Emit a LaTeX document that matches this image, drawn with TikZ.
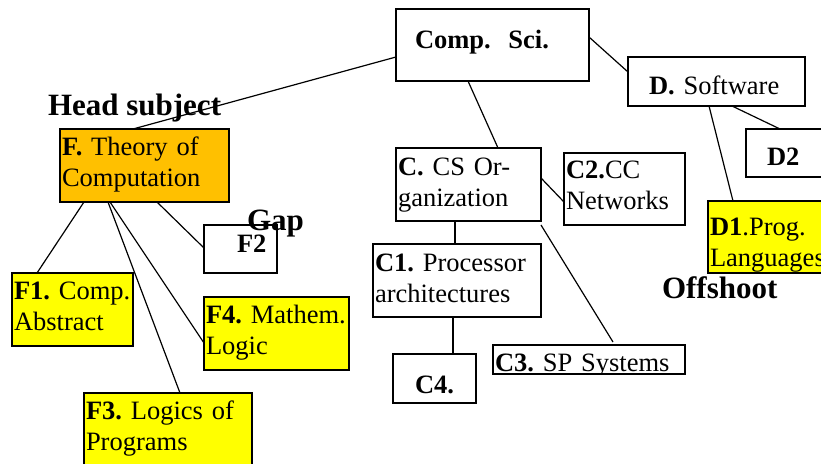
\documentclass[tikz,border=0pt]{standalone}
\usepackage{fontspec}
\setmainfont{Liberation Serif}
\newcommand\bodyfnt{\fontsize{26.5}{31.5}\selectfont\frenchspacing}
\newcommand\titlefnt{\fontsize{31}{36}\selectfont\bfseries\frenchspacing}
\definecolor{boxorange}{RGB}{255,192,0}
\definecolor{boxyellow}{RGB}{255,255,0}
\begin{document}
\begin{tikzpicture}[x=1pt,y=-1pt,
  bx/.style={draw=black, line width=1.4pt, fill=white, anchor=north west, inner sep=0pt, outer sep=0pt},
  txt/.style={anchor=base west, inner sep=0pt, outer sep=0pt, font=\bodyfnt, text width=220pt, align=left},
  ttl/.style={anchor=base west, inner sep=0pt, outer sep=0pt, font=\titlefnt},
  conn/.style={draw=black, line width=1.2pt}]
\useasboundingbox[fill=white] (0,0) rectangle (821,463);
% boxes
\node[bx, minimum width=193pt, minimum height=72pt] (Comp) at (396,9) {};
\node[bx, minimum width=177pt, minimum height=49pt] (D) at (628,57) {};
\node[bx, minimum width=90pt, minimum height=48pt] (D2) at (746,129) {};
\node[bx, fill=boxyellow, minimum width=120pt, minimum height=72pt] (D1) at (708,201) {};
\node[bx, minimum width=145pt, minimum height=73pt] (C) at (396,148) {};
\node[bx, minimum width=121pt, minimum height=72pt] (C2) at (564,153) {};
\node[bx, minimum width=168pt, minimum height=73pt] (C1) at (373,244) {};
\node[bx, minimum width=83pt, minimum height=49pt] (C4) at (393,354) {};
\node[bx, minimum width=192pt, minimum height=29pt] (C3) at (493,345) {};
\node[bx, fill=boxorange, minimum width=169pt, minimum height=73pt] (F) at (60,129) {};
\node[bx, minimum width=73pt, minimum height=48pt] (F2) at (204,225) {};
\node[bx, fill=boxyellow, minimum width=121pt, minimum height=73pt] (F1) at (12,273) {};
\node[bx, fill=boxyellow, minimum width=145pt, minimum height=73pt] (F4) at (204,297) {};
\node[bx, fill=boxyellow, minimum width=168pt, minimum height=80pt] (F3) at (84,393) {};
% texts
\node[txt] (Compt) at (415,48) {\textbf{Comp.\ \ Sci.}};
\node[txt] (Dt) at (649,94) {\textbf{D.} Software};
\node[txt] (D2t) at (767,165) {\textbf{D2}};
\node[txt] (D1t) at (710,235) {\textbf{D1}.Prog.\\Languages};
\node[txt] (Ct) at (398,175) {\textbf{C.} CS Or-\\ganization};
\node[txt] (C2t) at (566,178) {\textbf{C2.}CC\\Networks};
\node[txt] (C1t) at (375,271) {\textbf{C1.} Processor\\architectures};
\node[txt] (C4t) at (415,393) {\textbf{C4.}};
\begin{scope}
\clip (493,345) rectangle (685,374);
\node[txt] (C3t) at (495,371) {\textbf{C3.} SP Systems};
\end{scope}
\node[txt] (Ft) at (62,155) {\textbf{F.} Theory of\\Computation};
\node[txt] (F2t) at (237,252) {\textbf{F2}};
\node[txt] (F1t) at (14,299) {\textbf{F1.} Comp.\\Abstract};
\node[txt] (F4t) at (206,323) {\textbf{F4.} Mathem.\\Logic};
\node[txt] (F3t) at (86,419) {\textbf{F3.} Logics of\\Programs};
% titles
\node[ttl] (head) at (48,115) {Head subject};
\node[ttl] (gap) at (247,230) {Gap};
\node[ttl] (off) at (662,298) {Offshoot};
% connectors
\draw[conn] ([yshift=-48pt]Comp.north west) -- ([xshift=73pt]F.north west);
\draw[conn] ([yshift=-28pt]Comp.north east) -- ([yshift=-15pt]D.north west);
\draw[conn] ([xshift=72pt]Comp.south west) -- ([xshift=102pt]C.north west);
\draw[conn] ([xshift=104pt]D.south west) -- ([xshift=34pt]D2.north west);
\draw[conn] ([xshift=81pt]D.south west) -- ([xshift=25pt]D1.north west);
\draw[conn] ([yshift=-30pt]C.north east) -- ([yshift=-49pt]C2.north west);
\draw[conn] ([xshift=59pt]C.south west) -- ([xshift=82pt]C1.north west);
\draw[conn] ([yshift=-4pt]C.south east) -- ([xshift=120pt,yshift=3pt]C3.north west);
\draw[conn] ([xshift=80pt]C1.south west) -- ([xshift=60pt]C4.north west);
\draw[conn] ([xshift=24pt]F.south west) -- ([xshift=25pt]F1.north west);
\draw[conn] ([xshift=48pt]F.south west) -- ([xshift=96pt]F3.north west);
\draw[conn] ([xshift=50pt]F.south west) -- ([yshift=-46pt]F4.north west);
\draw[conn] ([xshift=97pt]F.south west) -- ([yshift=-23pt]F2.north west);
\end{tikzpicture}
\end{document}
